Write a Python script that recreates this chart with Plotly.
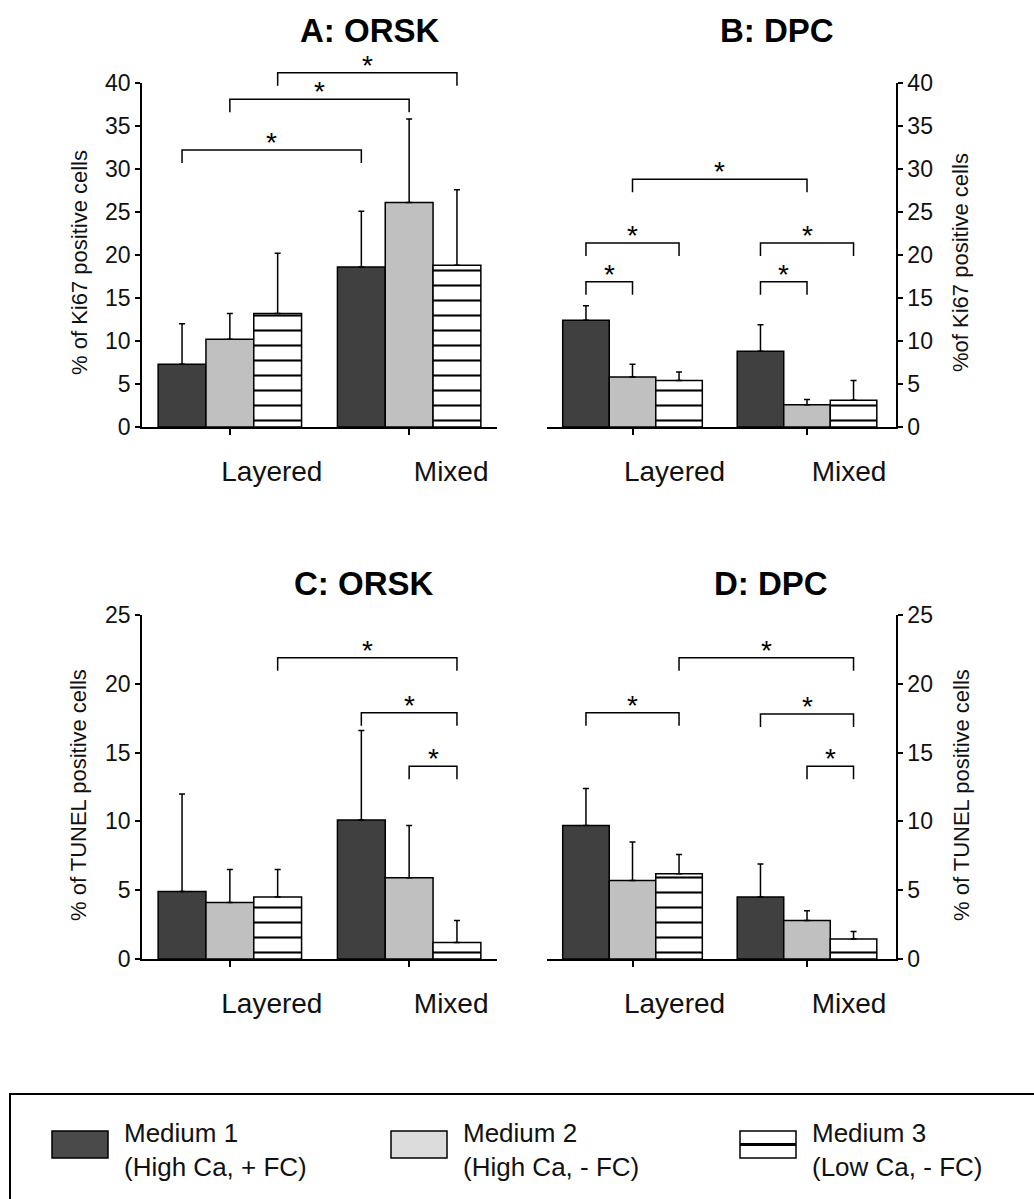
import plotly.graph_objects as go

W, H = 1034, 1199

# ---------------- data ----------------
categories = ["Layered", "Mixed"]
media_names = ["Medium 1", "Medium 2", "Medium 3"]
media_desc = ["(High Ca, + FC)", "(High Ca, - FC)", "(Low Ca, - FC)"]

ki67_ticks = [0, 5, 10, 15, 20, 25, 30, 35, 40]
tunel_ticks = [0, 5, 10, 15, 20, 25]

# A: ORSK, Ki67  (values per category: Layered, Mixed)
a_m1 = [7.3, 18.6]
a_m2 = [10.2, 26.1]
a_m3 = [13.2, 18.8]
a_m1_err = [4.7, 6.5]
a_m2_err = [3.0, 9.7]
a_m3_err = [7.0, 8.8]

# B: DPC, Ki67
b_m1 = [12.4, 8.8]
b_m2 = [5.8, 2.6]
b_m3 = [5.4, 3.1]
b_m1_err = [1.7, 3.1]
b_m2_err = [1.5, 0.6]
b_m3_err = [1.0, 2.3]

# C: ORSK, TUNEL
c_m1 = [4.9, 10.1]
c_m2 = [4.1, 5.9]
c_m3 = [4.5, 1.2]
c_m1_err = [7.1, 6.5]
c_m2_err = [2.4, 3.8]
c_m3_err = [2.0, 1.6]

# D: DPC, TUNEL
d_m1 = [9.7, 4.5]
d_m2 = [5.7, 2.8]
d_m3 = [6.2, 1.45]
d_m1_err = [2.7, 2.4]
d_m2_err = [2.8, 0.7]
d_m3_err = [1.4, 0.55]

# significance brackets: (category_i, medium_i), (category_j, medium_j), height
a_sig = [((0, 0), (1, 0), 32.2), ((0, 1), (1, 1), 38.1), ((0, 2), (1, 2), 41.2)]
b_sig = [((0, 0), (0, 1), 16.9), ((0, 0), (0, 2), 21.4), ((0, 1), (1, 1), 28.8),
         ((1, 0), (1, 1), 16.9), ((1, 0), (1, 2), 21.4)]
c_sig = [((0, 2), (1, 2), 21.9), ((1, 0), (1, 2), 17.9), ((1, 1), (1, 2), 14.0)]
d_sig = [((0, 0), (0, 2), 17.9), ((0, 2), (1, 2), 21.9), ((1, 0), (1, 2), 17.8),
         ((1, 1), (1, 2), 14.0)]

# ---------------- style ----------------
FONT = "Liberation Sans, Arial, sans-serif"
C1, C2 = "#404040", "#c0c0c0"
BARGAP = 0.2

def px_x(p):
    return p / W

def px_y(p):
    return 1 - p / H

panels = [
    dict(key="", title="A: ORSK", tcx=370, tcy=30, xd=(142, 497), yd=(83, 427),
         xr=[-0.49, 1.49], ymax=40, ticks=ki67_ticks, side="left",
         ytitle="% of Ki67 positive cells", ytx=79,
         m=[a_m1, a_m2, a_m3], e=[a_m1_err, a_m2_err, a_m3_err], sig=a_sig),
    dict(key="2", title="B: DPC", tcx=777, tcy=30, xd=(547, 896), yd=(83, 427),
         xr=[-0.49, 1.51], ymax=40, ticks=ki67_ticks, side="right",
         ytitle="%of Ki67 positive cells", ytx=960,
         m=[b_m1, b_m2, b_m3], e=[b_m1_err, b_m2_err, b_m3_err], sig=b_sig),
    dict(key="3", title="C: ORSK", tcx=364, tcy=584, xd=(142, 497), yd=(615, 959),
         xr=[-0.49, 1.49], ymax=25, ticks=tunel_ticks, side="left",
         ytitle="% of TUNEL positive cells", ytx=78,
         m=[c_m1, c_m2, c_m3], e=[c_m1_err, c_m2_err, c_m3_err], sig=c_sig),
    dict(key="4", title="D: DPC", tcx=771, tcy=584, xd=(547, 896), yd=(615, 959),
         xr=[-0.49, 1.51], ymax=25, ticks=tunel_ticks, side="right",
         ytitle="% of TUNEL positive cells", ytx=961,
         m=[d_m1, d_m2, d_m3], e=[d_m1_err, d_m2_err, d_m3_err], sig=d_sig),
]

fig = go.Figure()
shapes = []
annotations = []
layout_axes = {}

bar_w = (1 - BARGAP) / 3

for p in panels:
    k = p["key"]
    xa, ya = "x" + k, "y" + k
    xpos = list(range(len(categories)))
    for mi in range(3):
        marker = dict(line=dict(color="black", width=1.5))
        if mi == 0:
            marker["color"] = C1
        elif mi == 1:
            marker["color"] = C2
        else:
            marker["color"] = "white"
            marker["pattern"] = dict(shape="-", fgcolor="black", bgcolor="white",
                                     size=15, solidity=0.14)
        fig.add_trace(go.Bar(
            x=xpos, y=p["m"][mi], name=media_names[mi], xaxis=xa, yaxis=ya,
            marker=marker, showlegend=False, offsetgroup=str(mi),
            error_y=dict(type="data", array=p["e"][mi], arrayminus=[0] * len(xpos),
                         symmetric=False, color="black", thickness=1.5, width=3),
        ))

    xname = "xaxis" + k
    yname = "yaxis" + k
    layout_axes[xname] = dict(
        domain=[px_x(p["xd"][0]), px_x(p["xd"][1])], anchor=ya, range=p["xr"],
        tickvals=xpos, ticktext=categories, showline=True, linecolor="black",
        linewidth=1.5, ticks="outside", ticklen=6, tickwidth=1.5, tickcolor="black",
        showgrid=False, zeroline=False, ticklabelshift=42, ticklabelstandoff=13,
        automargin=False,
        tickfont=dict(family=FONT, size=28, color="#111"), fixedrange=True,
    )
    layout_axes[yname] = dict(
        domain=[px_y(p["yd"][1]), px_y(p["yd"][0])], anchor=xa, range=[0, p["ymax"]],
        tickvals=p["ticks"], side=p["side"], showline=True, linecolor="black",
        linewidth=1.5, ticks="outside", ticklen=5, tickwidth=1.5, tickcolor="black",
        showgrid=False, zeroline=False, automargin=False,
        tickfont=dict(family=FONT, size=23, color="#111"), fixedrange=True,
    )

    # title & y title
    annotations.append(dict(text="<b>" + p["title"] + "</b>", xref="paper", yref="paper",
                            x=px_x(p["tcx"]), y=px_y(p["tcy"]), xanchor="center",
                            yanchor="middle", showarrow=False,
                            font=dict(family=FONT, size=33, color="black")))
    ymid = (p["yd"][0] + p["yd"][1]) / 2 + 8
    annotations.append(dict(text=p["ytitle"], xref="paper", yref="paper",
                            x=px_x(p["ytx"]), y=px_y(ymid), xanchor="center",
                            yanchor="middle", textangle=-90, showarrow=False,
                            font=dict(family=FONT, size=22, color="#111")))

    # significance brackets
    xr0, xr1 = p["xr"]
    h_px = p["yd"][1] - p["yd"][0]
    leg = 13 / h_px

    def bx(ci, mi):
        return ((ci + (mi - 1) * bar_w) - xr0) / (xr1 - xr0)

    for (a, b, hgt) in p["sig"]:
        x0, x1 = bx(*a), bx(*b)
        yy = hgt / p["ymax"]
        shapes.append(dict(type="path", xref=xa + " domain", yref=ya + " domain",
                           path=f"M{x0},{yy - leg} L{x0},{yy} L{x1},{yy} L{x1},{yy - leg}",
                           line=dict(color="black", width=1.5)))
        annotations.append(dict(text="*", xref=xa + " domain", yref=ya + " domain",
                                x=(x0 + x1) / 2, y=yy, xanchor="center", yanchor="bottom",
                                yshift=-10, showarrow=False,
                                font=dict(family=FONT, size=28, color="black")))

# ---------------- legend (drawn) ----------------
shapes.append(dict(type="rect", xref="paper", yref="paper",
                   x0=px_x(10), x1=px_x(1060), y0=px_y(1230), y1=px_y(1094),
                   line=dict(color="black", width=2), fillcolor="rgba(0,0,0,0)"))
sw = [(52, "#4a4a4a"), (391, "#dcdcdc"), (740, "white")]
for i, (sx, col) in enumerate(sw):
    shapes.append(dict(type="rect", xref="paper", yref="paper",
                       x0=px_x(sx), x1=px_x(sx + 56), y0=px_y(1158), y1=px_y(1131),
                       line=dict(color="black", width=1.5), fillcolor=col))
    if i == 2:
        shapes.append(dict(type="line", xref="paper", yref="paper",
                           x0=px_x(sx), x1=px_x(sx + 56), y0=px_y(1144.5), y1=px_y(1144.5),
                           line=dict(color="black", width=3)))
    annotations.append(dict(text=media_names[i] + "<br>" + media_desc[i],
                            xref="paper", yref="paper", x=px_x(sx + 70), y=px_y(1150),
                            xanchor="left", yanchor="middle", align="left", showarrow=False,
                            font=dict(family=FONT, size=26, color="#111")))

fig.update_layout(
    width=W, height=H, margin=dict(l=0, r=0, t=0, b=0, pad=0, autoexpand=False),
    template="none",
    paper_bgcolor="white", plot_bgcolor="white",
    barmode="group", bargap=BARGAP, bargroupgap=0,
    showlegend=False, shapes=shapes, annotations=annotations,
    font=dict(family=FONT, color="#111"),
    **layout_axes,
)

fig.write_html("out.html", config={"displayModeBar": False})
